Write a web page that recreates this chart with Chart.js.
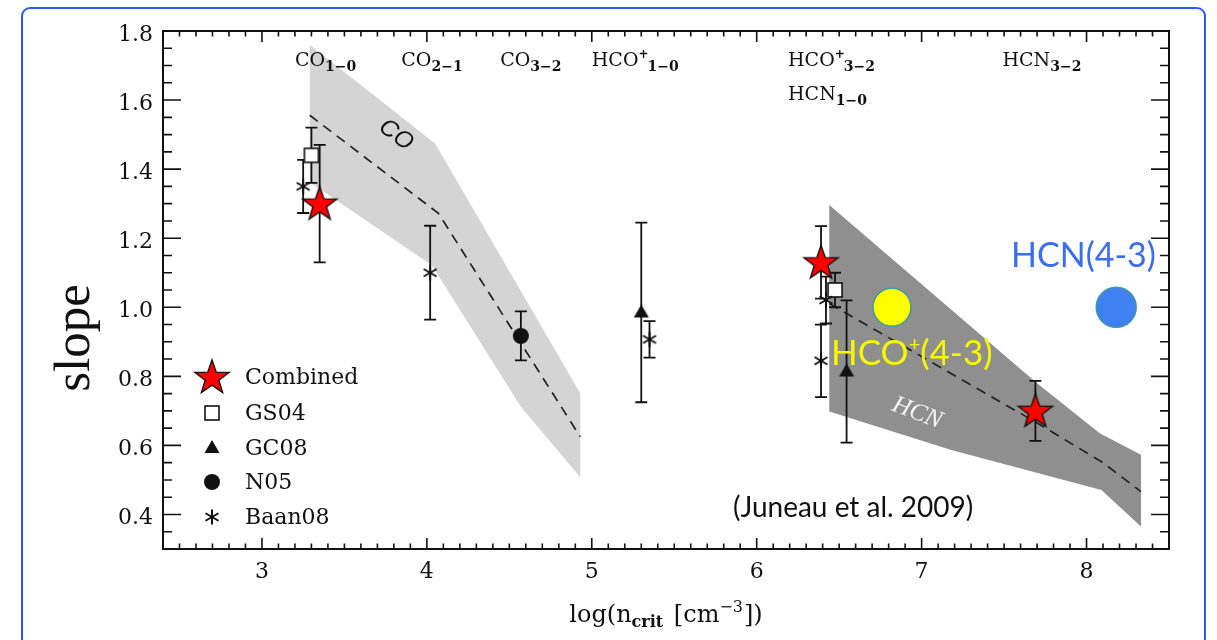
<!DOCTYPE html>
<html>
<head>
<meta charset="utf-8">
<script src="https://cdn.jsdelivr.net/npm/chart.js@4.4.0/dist/chart.umd.min.js"></script>
<style>
  html, body { margin: 0; padding: 0; background: #fff; }
  #wrap { position: relative; width: 1217px; height: 640px; overflow: hidden; }
  #frame { position: absolute; left: 21px; top: 7px; width: 1185px; height: 700px;
           border: 2px solid #2f5af2; border-radius: 9px; box-sizing: border-box; }
  #c { position: absolute; left: 0; top: 0; }
</style>
</head>
<body>
<div id="wrap">
  <div id="frame"></div>
  <canvas id="c" width="1217" height="640"></canvas>
</div>
<script>
// ---- data ----
const xTicks = [3, 4, 5, 6, 7, 8];
const yTicks = [0.4, 0.6, 0.8, 1.0, 1.2, 1.4, 1.6, 1.8];

// Combined (red stars)
const combinedX = [3.35, 6.39, 7.69];
const combinedY = [1.30, 1.13, 0.70];
const combinedErr = [0.17, 0.105, 0.087];
// GS04
const gs04X = [3.30, 6.475];
const gs04Y = [1.44, 1.05];
const gs04Err = [0.08, 0.05];
// GC08
const gc08X = [5.30, 6.545];
const gc08Y = [0.985, 0.814];
const gc08Err = [0.26, 0.206];
// N05
const n05X = [4.57];
const n05Y = [0.917];
const n05Err = [0.071];
// Baan08
const baanX = [3.25, 4.02, 5.35, 6.39, 6.42];
const baanY = [1.35, 1.10, 0.907, 0.845, 1.021];
const baanErr = [0.077, 0.136, 0.053, 0.105, 0.068];

// model bands (outline) and model tracks
const coBandX = [3.29, 4.05, 4.93, 4.93, 4.57, 4.03, 3.29];
const coBandY = [1.76, 1.474, 0.751, 0.508, 0.712, 1.122, 1.362];
const coModelX = [3.29, 4.07, 4.93];
const coModelY = [1.556, 1.272, 0.625];
const hcnBandX = [6.44, 7.70, 8.08, 8.33, 8.33, 8.09, 7.18, 6.44];
const hcnBandY = [1.296, 0.78, 0.635, 0.573, 0.365, 0.471, 0.587, 0.698];
const hcnModelX = [6.44, 7.70, 8.10, 8.33];
const hcnModelY = [1.011, 0.665, 0.55, 0.466];

// new (4-3) measurements
const hcoX = [6.82];
const hcoY = [1.0];
const hcnX = [8.18];
const hcnY = [1.0];

// transitions written along the top
const transMol = ['CO', 'CO', 'CO', 'HCO', 'HCO', 'HCN', 'HCN'];
const transSup = ['', '', '', '+', '+', '', ''];
const transSub = ['1\u22120', '2\u22121', '3\u22122', '1\u22120', '3\u22122', '1\u22120', '3\u22122'];
const transX = [3.2, 3.845, 4.445, 5.0, 6.19, 6.19, 7.49];
const transY = [1.698, 1.698, 1.698, 1.698, 1.698, 1.6, 1.698];

const zip = (xs, ys) => xs.map((x, i) => ({ x: x, y: ys[i] }));

// point markers drawn once on small canvases
function makeMarker(kind) {
  const c = document.createElement('canvas');
  const s = kind === 'star' ? 40 : 22;
  c.width = s; c.height = s;
  const g = c.getContext('2d');
  const m = s / 2;
  g.strokeStyle = '#111';
  g.fillStyle = '#111';
  if (kind === 'star') {
    g.beginPath();
    for (let k = 0; k < 10; k++) {
      const r = k % 2 ? 7.2 : 18;
      const a = -Math.PI / 2 + k * Math.PI / 5;
      g.lineTo(m + r * Math.cos(a), m + 1 + r * Math.sin(a));
    }
    g.closePath();
    g.fillStyle = '#ff0000';
    g.fill();
    g.lineWidth = 1.4;
    g.stroke();
  } else if (kind === 'square') {
    g.fillStyle = '#fff';
    g.fillRect(m - 7, m - 7, 14, 14);
    g.lineWidth = 1.6;
    g.strokeRect(m - 7, m - 7, 14, 14);
  } else if (kind === 'triangle') {
    g.beginPath();
    g.moveTo(m, m - 8);
    g.lineTo(m + 7.5, m + 5);
    g.lineTo(m - 7.5, m + 5);
    g.closePath();
    g.fill();
  } else if (kind === 'circle') {
    g.beginPath();
    g.arc(m, m, 8, 0, Math.PI * 2);
    g.fill();
  } else if (kind === 'asterisk') {
    g.lineWidth = 2;
    g.beginPath();
    for (let k = 0; k < 3; k++) {
      const a = Math.PI / 2 + k * Math.PI / 3;
      g.moveTo(m - 7.5 * Math.cos(a), m - 7.5 * Math.sin(a));
      g.lineTo(m + 7.5 * Math.cos(a), m + 7.5 * Math.sin(a));
    }
    g.stroke();
  }
  return c;
}

const markers = {
  star: makeMarker('star'),
  square: makeMarker('square'),
  triangle: makeMarker('triangle'),
  circle: makeMarker('circle'),
  asterisk: makeMarker('asterisk')
};

const groups = [
  { label: 'Combined', marker: 'star', xs: combinedX, ys: combinedY, err: combinedErr, order: 1 },
  { label: 'GS04', marker: 'square', xs: gs04X, ys: gs04Y, err: gs04Err, order: 4 },
  { label: 'GC08', marker: 'triangle', xs: gc08X, ys: gc08Y, err: gc08Err, order: 3 },
  { label: 'N05', marker: 'circle', xs: n05X, ys: n05Y, err: n05Err, order: 3 },
  { label: 'Baan08', marker: 'asterisk', xs: baanX, ys: baanY, err: baanErr, order: 2 }
];

function drawParts(ctx, x, y, parts) {
  let cx = x;
  parts.forEach(p => {
    ctx.font = p.font;
    ctx.fillText(p.t, cx, y + (p.dy || 0));
    cx += ctx.measureText(p.t).width + (p.gap || 0);
  });
}

// error bars go between the bands and the markers
const errorBars = {
  id: 'errorBars',
  afterDatasetDraw(chart, args) {
    if (!chart.data.datasets[args.index].lastBackground) return;
    const { ctx, scales: { x, y } } = chart;
    ctx.save();
    ctx.strokeStyle = '#111';
    ctx.lineWidth = 1.8;
    groups.forEach(g => {
      g.xs.forEach((xv, i) => {
        const px = x.getPixelForValue(xv);
        const t = y.getPixelForValue(g.ys[i] + g.err[i]);
        const b = y.getPixelForValue(g.ys[i] - g.err[i]);
        ctx.beginPath();
        ctx.moveTo(px, t); ctx.lineTo(px, b);
        ctx.moveTo(px - 6, t); ctx.lineTo(px + 6, t);
        ctx.moveTo(px - 6, b); ctx.lineTo(px + 6, b);
        ctx.stroke();
      });
    });
    ctx.restore();
  }
};

// frame, inward ticks on all sides, labels and legend
const decorations = {
  id: 'decorations',
  afterDraw(chart) {
    const { ctx, chartArea: a, scales: { x, y } } = chart;
    ctx.save();
    ctx.strokeStyle = '#111';
    ctx.lineWidth = 2;
    ctx.strokeRect(a.left, a.top, a.right - a.left, a.bottom - a.top);
    ctx.lineWidth = 1.6;
    ctx.beginPath();
    for (let k = 24; k <= 85; k++) {
      const v = k / 10;
      const px = x.getPixelForValue(v);
      const len = k % 10 === 0 ? 11 : 5.5;
      ctx.moveTo(px, a.bottom); ctx.lineTo(px, a.bottom - len);
      ctx.moveTo(px, a.top); ctx.lineTo(px, a.top + len);
    }
    for (let k = 6; k <= 36; k++) {
      const v = k / 20;
      const py = y.getPixelForValue(v);
      const len = k % 4 === 0 ? 18 : 9;
      ctx.moveTo(a.left, py); ctx.lineTo(a.left + len, py);
      ctx.moveTo(a.right, py); ctx.lineTo(a.right - len, py);
    }
    ctx.stroke();

    // transitions along the top
    ctx.fillStyle = '#111';
    ctx.textBaseline = 'alphabetic';
    transMol.forEach((mol, i) => {
      const parts = [{ t: mol, font: '19px "DejaVu Serif"' }];
      if (transSup[i]) parts.push({ t: transSup[i], font: 'bold 12px "DejaVu Serif"', dy: -8, gap: -1 });
      parts.push({ t: transSub[i], font: 'bold 14px "DejaVu Serif"', dy: 5 });
      drawParts(ctx, x.getPixelForValue(transX[i]), y.getPixelForValue(transY[i]), parts);
    });

    // axis titles
    const xt = [
      { t: 'log(n', font: '24px "DejaVu Serif"' },
      { t: 'crit', font: 'bold 16px "DejaVu Serif"', dy: 5, gap: 3 },
      { t: ' [cm', font: '24px "DejaVu Serif"' },
      { t: '\u22123', font: '16px "DejaVu Serif"', dy: -10, gap: 1 },
      { t: '])', font: '24px "DejaVu Serif"' }
    ];
    let w = 0;
    xt.forEach(p => { ctx.font = p.font; w += ctx.measureText(p.t).width + (p.gap || 0); });
    drawParts(ctx, (a.left + a.right) / 2 - w / 2, 622, xt);

    ctx.save();
    ctx.translate(89, 338);
    ctx.rotate(-Math.PI / 2);
    ctx.font = '51px "Liberation Serif"';
    ctx.textAlign = 'center';
    ctx.fillText('slope', 0, 0);
    ctx.restore();

    // band names
    ctx.save();
    ctx.translate(396, 135);
    ctx.rotate(37 * Math.PI / 180);
    ctx.font = 'italic 24px "Liberation Sans"';
    ctx.textAlign = 'center';
    ctx.textBaseline = 'middle';
    ctx.fillText('CO', 0, 0);
    ctx.restore();

    ctx.save();
    ctx.translate(917, 413);
    ctx.rotate(21 * Math.PI / 180);
    ctx.font = 'italic 25px "Liberation Serif"';
    ctx.fillStyle = '#f4f4f4';
    ctx.textAlign = 'center';
    ctx.textBaseline = 'middle';
    ctx.fillText('HCN', 0, 0);
    ctx.restore();

    // annotations for the new points
    ctx.fillStyle = '#3c6cf0';
    ctx.font = '34px "Lato"';
    ctx.fillText('HCN(4-3)', 1011, 267);
    ctx.fillStyle = '#f7f700';
    drawParts(ctx, 831, 365, [
      { t: 'HCO', font: '35px "Lato"' },
      { t: '+', font: '20px "Lato"', dy: -14 },
      { t: '(4-3)', font: '35px "Lato"' }
    ]);
    ctx.fillStyle = '#111';
    ctx.font = '28px "Lato"';
    ctx.fillText('(Juneau et al. 2009)', 733, 517);

    // legend
    const rows = [377, 413, 448, 482, 517];
    ctx.textBaseline = 'middle';
    ctx.font = '22px "DejaVu Serif"';
    groups.forEach((g, i) => {
      const img = markers[g.marker];
      ctx.drawImage(img, 212 - img.width / 2, rows[i] - img.height / 2);
      ctx.fillStyle = '#111';
      ctx.fillText(g.label, 245, rows[i] + 1);
    });
    ctx.restore();
  }
};

const datasets = [
  { type: 'line', label: 'CO band', data: zip(coBandX, coBandY), fill: 'shape',
    backgroundColor: '#d4d4d4', borderColor: 'rgba(0,0,0,0)', borderWidth: 0, pointRadius: 0, order: 30 },
  { type: 'line', label: 'HCN band', data: zip(hcnBandX, hcnBandY), fill: 'shape',
    backgroundColor: '#8f8f8f', borderColor: 'rgba(0,0,0,0)', borderWidth: 0, pointRadius: 0, order: 29 },
  { type: 'line', label: 'CO model', data: zip(coModelX, coModelY), fill: false,
    borderColor: '#222', borderWidth: 1.7, borderDash: [10, 7], pointRadius: 0, order: 21 },
  { type: 'line', label: 'HCN model', data: zip(hcnModelX, hcnModelY), fill: false, lastBackground: true,
    borderColor: '#222', borderWidth: 1.7, borderDash: [10, 7], pointRadius: 0, order: 20 }
];
groups.forEach(g => {
  datasets.push({ label: g.label, data: zip(g.xs, g.ys), pointStyle: markers[g.marker], order: g.order });
});
datasets.push({ label: 'HCO+(4-3)', data: zip(hcoX, hcoY), pointStyle: 'circle', pointRadius: 19,
  backgroundColor: '#ffff00', borderColor: '#3f9a9c', borderWidth: 1.5, order: 0 });
datasets.push({ label: 'HCN(4-3)', data: zip(hcnX, hcnY), pointStyle: 'circle', pointRadius: 20,
  backgroundColor: '#3f80f2', borderColor: '#3f9a9c', borderWidth: 1.5, order: 0 });

const tickFont = { family: 'DejaVu Serif', size: 22 };

new Chart(document.getElementById('c'), {
  type: 'scatter',
  data: { datasets: datasets },
  options: {
    responsive: false,
    animation: false,
    devicePixelRatio: 1,
    layout: { padding: { left: 0, right: 48, top: 31, bottom: 0 } },
    plugins: { legend: { display: false }, tooltip: { enabled: false } },
    scales: {
      x: {
        type: 'linear', min: 2.4, max: 8.5,
        grid: { display: false, drawTicks: false },
        border: { display: false },
        ticks: { font: tickFont, color: '#111', padding: 10, callback: v => String(v) },
        afterBuildTicks: s => { s.ticks = xTicks.map(v => ({ value: v })); },
        afterFit: s => { s.height = 91; }
      },
      y: {
        type: 'linear', min: 0.3, max: 1.8,
        grid: { display: false, drawTicks: false },
        border: { display: false },
        ticks: { font: tickFont, color: '#111', padding: 10, labelOffset: 4, callback: v => v.toFixed(1) },
        afterBuildTicks: s => { s.ticks = yTicks.map(v => ({ value: v })); },
        afterFit: s => { s.width = 163; }
      }
    }
  },
  plugins: [errorBars, decorations]
});
</script>
</body>
</html>
